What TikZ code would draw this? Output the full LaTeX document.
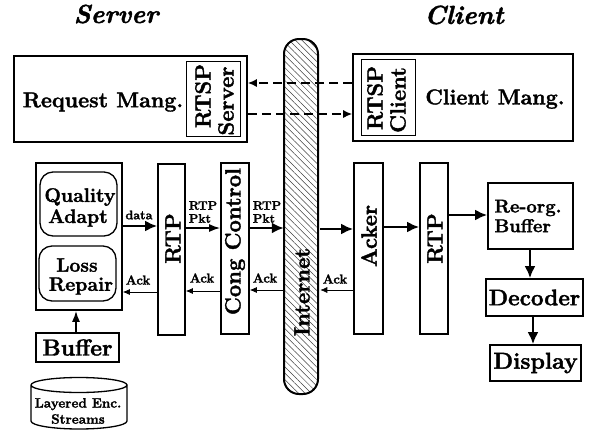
\documentclass[tikz,border=0pt]{standalone}
\usepackage{fontspec}
\setmainfont{Latin Modern Roman}[BoldFeatures={FakeBold=1.7},BoldItalicFeatures={FakeBold=1.7}]
\usetikzlibrary{arrows.meta,patterns.meta}
\newcommand{\fs}[1]{\fontsize{#1}{#1}\selectfont\bfseries}
\newcommand{\bx}[7][]{\node[boxed,#1,minimum width={#4-#2},minimum height={#5-#3}] (#6) at ({(#2+#4)/2},{(#3+#5)/2}) {#7};}
\tikzset{
  boxed/.style={draw,line width=1.7pt,inner sep=0pt,align=center,text=black},
  thinbox/.style={line width=1pt},
  vert/.style={rotate=90},
  lbl/.style={inner sep=0pt,align=left},
  flow/.style={line width=2.3pt,-{Latex[length=12pt,width=11pt]}},
  pktflow/.style={line width=1.6pt,-{Latex[length=11pt,width=8pt]}},
  ackflow/.style={line width=.7pt,-{Latex[length=7pt,width=6pt]}},
  rtspflow/.style={line width=1.3pt,dash pattern=on 9pt off 5pt,-{Latex[length=9pt,width=8pt]}},
  netstyle/.style={line width=2pt,rounded corners=15pt,pattern={Lines[angle=135,distance=4.5pt,line width=.5pt]},pattern color=black!75}
}
\begin{document}
\begin{tikzpicture}[x=1pt,y=-1pt]
\useasboundingbox (0,0) rectangle (590,432);
\node[lbl] (srv) at (116,14) {\fs{26}\itshape Server};
\node[lbl] (cli) at (464,15) {\fs{26}\itshape Client};
% top boxes
\bx{14}{56}{247}{142}{req}{}
\node[lbl] (reqt) at (103,102) {\fs{21.5}Request Mang.};
\bx[thinbox]{186}{61}{240}{136}{rs}{}
\node[lbl,vert] (rs1) at (203,96) {\fs{22}RTSP};
\node[lbl,vert] (rs2) at (226,101) {\fs{22}Server};
\bx{353}{54}{573}{141}{cm}{}
\node[lbl] (cmt) at (495,99) {\fs{21.5}Client Mang.};
\bx[thinbox]{361}{59}{415}{135}{rc}{}
\node[lbl,vert] (rc1) at (375,98) {\fs{22}RTSP};
\node[lbl,vert] (rc2) at (398,100) {\fs{22}Client};
% internet
\node[draw,netstyle,inner sep=0pt,minimum width=34pt,minimum height=355pt] (net) at (301,216.5) {};
\node[lbl,vert] (nett) at (302,292) {\fs{22}Internet};
% left stack
\bx{36}{163}{122}{310}{outer}{}
\bx[rounded corners=13pt,line width=1.3pt]{40}{172}{117}{236}{qa}{}
\node[lbl] (qat1) at (80,197) {\fs{19.5}Quality};
\node[lbl] (qat2) at (78,218) {\fs{19.5}Adapt};
\bx[rounded corners=13pt,line width=1.3pt]{39}{246}{116}{301}{lr}{}
\node[lbl] (lrt1) at (77,265) {\fs{19.5}Loss};
\node[lbl] (lrt2) at (81,286) {\fs{19.5}Repair};
\bx{158}{164}{185}{335}{rtpa}{}
\node[lbl,vert] (rtpat) at (173,238.5) {\fs{22}RTP};
\bx{221}{163}{249}{334}{cong}{}
\node[lbl,vert] (congt) at (235,241.5) {\fs{22}Cong Control};
\bx{354}{163}{383}{334}{acker}{}
\node[lbl,vert] (ackert) at (369,236) {\fs{22}Acker};
\bx{420}{163}{448}{334}{rtpb}{}
\node[lbl,vert] (rtpbt) at (435,238.5) {\fs{22}RTP};
\bx{488}{183}{573}{249}{reorg}{}
\node[lbl] (reorgt) at (528,216) {\fs{18.5}Re-org.\\[2pt]\fs{18.5}Buffer};
\bx{486}{279}{583}{316}{dec}{\fs{22.5}Decoder}
\bx{490}{345}{581}{381}{disp}{\fs{23}Display}
\bx{36}{333}{119}{362}{buf}{\fs{23}Buffer}
% cylinder
\draw[line width=1.3pt] (31,385) arc[start angle=180,end angle=540,x radius=48,y radius=7.5]
  (31,385) -- (31,421) arc[start angle=180,end angle=0,x radius=48,y radius=8] -- (127,385);
\node[lbl,align=center] (cyl) at (78,411) {\fs{13.5}Layered Enc.\\[3pt]\fs{13.5}Streams};
% labels
\node[lbl] (ldata) at (139,215) {\fs{12.5}data};
\node[lbl] (l1) at (203,212) {\fs{12.3}RTP\\[1pt]\fs{12.3}Pkt};
\node[lbl] (l2) at (267,212) {\fs{12.3}RTP\\[1pt]\fs{12.3}Pkt};
\node[lbl] (a1) at (138,280) {\fs{13}Ack};
\node[lbl] (a2) at (202,278) {\fs{13}Ack};
\node[lbl] (a3) at (265,278) {\fs{13}Ack};
\node[lbl] (a4) at (335,279) {\fs{13}Ack};
% connectors
\draw[flow] (outer.east |- 0,226) -- (rtpa.west |- 0,226);
\draw[pktflow] (rtpa.east |- 0,228) -- (cong.west |- 0,228);
\draw[flow] (cong.east |- 0,228) -- (net.west |- 0,228);
\draw[flow,shorten <=2pt] (net.east |- 0,229) -- (acker.west |- 0,229);
\draw[flow] (acker.east |- 0,227) -- (rtpb.west |- 0,227);
\draw[flow] (rtpb.east |- 0,215) -- (reorg.west |- 0,215);
\draw[flow] (reorg.south -| 530,0) -- (dec.north -| 530,0);
\draw[flow] (dec.south -| 533,0) -- (disp.north -| 533,0);
\draw[pktflow] (buf.north -| 76,0) -- (outer.south -| 76,0);
\draw[ackflow] (rtpa.west |- 0,292) -- (outer.east |- 0,292);
\draw[ackflow] (cong.west |- 0,291) -- (rtpa.east |- 0,291);
\draw[ackflow] (net.west |- 0,290) -- (cong.east |- 0,290);
\draw[ackflow,shorten >=2pt] (acker.west |- 0,290) -- (net.east |- 0,290);
\draw[rtspflow] (cm.west |- 0,83) -- (req.east |- 0,83);
\draw[rtspflow] (req.east |- 0,114) -- (cm.west |- 0,114);
\end{tikzpicture}
\end{document}
